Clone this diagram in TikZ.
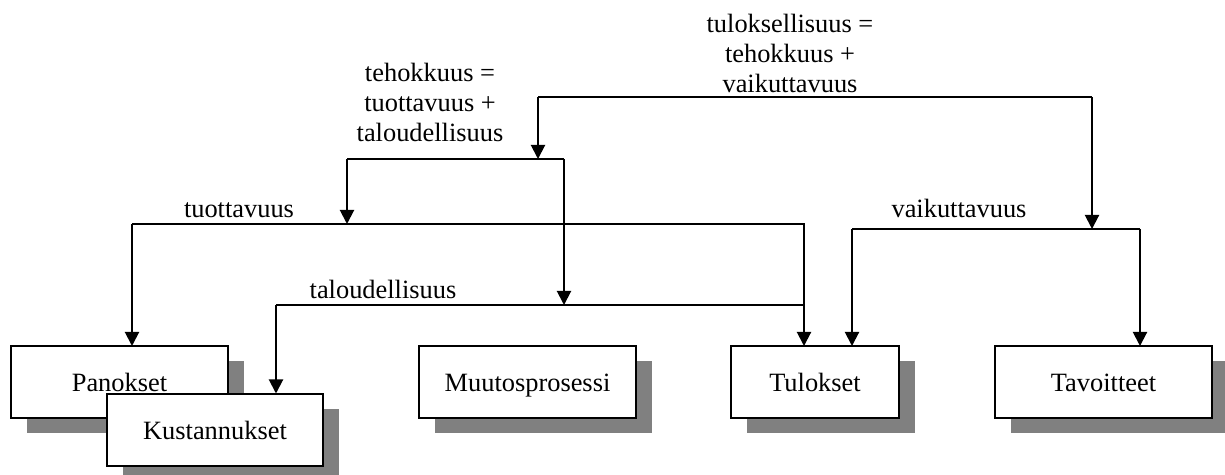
\documentclass[tikz,border=0pt]{standalone}
\usepackage{fontspec}
\setmainfont{Liberation Serif}
\usetikzlibrary{arrows.meta,shadows}
\begin{document}
\begin{tikzpicture}[x=0.5pt,y=-0.5pt,
  box/.style={draw=black, line width=1pt, fill=white, minimum height=36pt, inner sep=0pt, outer sep=0pt,
    text height=12pt, text depth=2.5pt,
    font=\fontsize{13.2}{15}\selectfont,
    drop shadow={shadow xshift=8pt, shadow yshift=-7.5pt, fill=gray, opacity=1, draw=none}},
  conn/.style={line width=1pt, line join=miter},
  arr/.style={conn, -{Triangle[width=7pt,length=7pt]}},
  lbl/.style={font=\fontsize{13.2}{15}\selectfont, inner sep=0pt, align=center}
]
\useasboundingbox (0,0) rectangle (1225,475);

% boxes
\node[box, minimum width=108.5pt] (pan) at (119.5,382) {Panokset};
\node[box, minimum width=108pt] (kus) at (215,429.5) {Kustannukset};
\node[box, minimum width=108.5pt] (muu) at (527.5,382) {Muutosprosessi};
\node[box, minimum width=84pt] (tul) at (815,382) {Tulokset};
\node[box, minimum width=108.5pt] (tav) at (1103.5,382) {Tavoitteet};

% junction coordinates
\coordinate (tlsL) at (538,97);
\coordinate (tlsR) at (1092,97);
\coordinate (tehL) at (347,159);
\coordinate (tehR) at (564,159);
\coordinate (tuoL) at (132,224);
\coordinate (tuoR) at (804,224);
\coordinate (talL) at (276,305);
\coordinate (talR) at (804,305);
\coordinate (vaiL) at (852,229);
\coordinate (vaiR) at (1140,229);

% connectors
\draw[conn] (tlsL) -- (tlsR);
\draw[arr] (tlsL) -- (tlsL |- tehL);
\draw[arr] (tlsR) -- (tlsR |- vaiL);

\draw[conn] (tehL) -- (tehR);
\draw[arr] (tehL) -- (tehL |- tuoL);
\draw[arr] (tehR) -- (tehR |- talL);

\draw[conn] (tuoL) -- (tuoR) -- (talR);
\draw[arr] (tuoL) -- (tuoL |- pan.north);

\draw[conn] (talL) -- (talR);
\draw[arr] (talL) -- (talL |- kus.north);
\draw[arr] (talR) -- (talR |- tul.north);

\draw[conn] (vaiL) -- (vaiR);
\draw[arr] (vaiL) -- (vaiL |- tul.north);
\draw[arr] (vaiR) -- (vaiR |- tav.north);

% labels
\node[lbl, anchor=base] (ltuo) at (239,218) {tuottavuus};
\node[lbl, anchor=base] (ltal) at (383,299) {taloudellisuus};
\node[lbl, anchor=base] (lvai) at (959,218) {vaikuttavuus};
\node[lbl, anchor=base] (lteh) at (430,142) {tehokkuus =\\tuottavuus +\\taloudellisuus};
\node[lbl, anchor=base] (ltls) at (790,93) {tuloksellisuus =\\tehokkuus +\\vaikuttavuus};
\end{tikzpicture}
\end{document}
